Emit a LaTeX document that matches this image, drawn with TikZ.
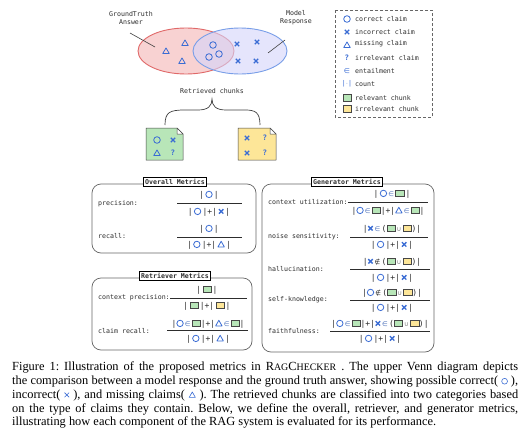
\documentclass[tikz,border=0pt]{standalone}
\usepackage{fontspec}
\setmainfont{Liberation Serif}
\newfontfamily\mono{DejaVu Sans Mono}
\newfontfamily\djv{DejaVu Sans}
\definecolor{blueC}{RGB}{58,108,212}
\definecolor{txtC}{RGB}{45,45,45}
\definecolor{redS}{RGB}{224,104,104}
\definecolor{redF}{RGB}{246,196,196}
\definecolor{lavS}{RGB}{120,158,232}
\definecolor{lavF}{RGB}{212,212,250}
\definecolor{greenC}{RGB}{184,230,184}
\definecolor{yellowC}{RGB}{253,230,152}
\definecolor{chunkS}{RGB}{70,70,70}
\newcommand\oc{\tikz[baseline=-2.9pt]\draw[blueC,line width=0.8pt] (0pt,0pt) circle (3.2pt);}
\newcommand\xc{\tikz[baseline=-2.9pt]\draw[blueC,line width=1.35pt] (-2.2pt,-2.2pt)--(2.2pt,2.2pt) (-2.2pt,2.2pt)--(2.2pt,-2.2pt);}
\newcommand\tc{\tikz[baseline=-2.9pt]\draw[blueC,line width=0.8pt,line join=round] (-3.2pt,-2.5pt)--(3.2pt,-2.5pt)--(0pt,3.1pt)--cycle;}
\newcommand\gb{\tikz[baseline=-2.9pt]\draw[chunkS,fill=greenC,line width=0.4pt] (-4.2pt,-3.2pt) rectangle (4.2pt,3.2pt);}
\newcommand\yb{\tikz[baseline=-2.9pt]\draw[chunkS,fill=yellowC,line width=0.4pt] (-4.2pt,-3.2pt) rectangle (4.2pt,3.2pt);}
\newcommand\inn{{\djv\fontsize{6.5}{7}\selectfont\color{blueC!70!gray}∈}}
\newcommand\nin{{\djv\fontsize{6.5}{7}\selectfont ∉}}
\newcommand\un{{\djv\fontsize{6.5}{7}\selectfont\color{gray}∪}}
\newcommand\coc{\tikz[baseline=-3.4pt]\draw[blueC,line width=0.6pt] (0pt,0pt) circle (2.9pt);}
\newcommand\cxc{\tikz[baseline=-3.4pt]\draw[blueC,line width=0.6pt] (-2.3pt,-2.3pt)--(2.3pt,2.3pt) (-2.3pt,2.3pt)--(2.3pt,-2.3pt);}
\newcommand\ctc{\tikz[baseline=-3.4pt]\draw[blueC,line width=0.6pt,line join=round] (-3.1pt,-2.5pt)--(3.1pt,-2.5pt)--(0pt,3pt)--cycle;}
\newcommand\sml[1]{{\fontsize{9.9}{10}\selectfont #1}}
\begin{document}
\frenchspacing
\begin{tikzpicture}[x=1pt,y=-1pt,
  lbl/.style={font=\mono\fontsize{6.6}{8}\selectfont, text=txtC, inner sep=0pt},
  fml/.style={font=\mono\fontsize{8}{9}\selectfont, text=txtC, inner sep=0pt},
  ttl/.style={font=\mono\bfseries\fontsize{6.6}{8}\selectfont, text=txtC, draw=black, fill=white, line width=0.5pt, inner xsep=1.5pt, inner ysep=1.6pt},
  mbox/.style={draw=black!60, line width=0.7pt, rounded corners=9pt},
  fbar/.style={draw=txtC, line width=0.6pt},
  leader/.style={draw=black!75, line width=0.6pt},
  chunk/.style={draw=chunkS, line width=0.5pt, line join=round},
  pcirc/.pic={\draw[blueC,line width=0.8pt] (0,0) circle (3.3pt);},
  ptri/.pic={\draw[blueC,line width=0.8pt,line join=round] (-3.2,2.4)--(3.2,2.4)--(0,-3)--cycle;},
  pcross/.pic={\draw[blueC,line width=1.3pt] (-2.2,-2.2)--(2.2,2.2) (-2.2,2.2)--(2.2,-2.2);},
  qm/.style={font=\mono\bfseries\fontsize{7.5}{8}\selectfont, text=blueC, inner sep=0pt}
]
\useasboundingbox (0,0) rectangle (530,442);
\fill[white] (0,0) rectangle (530,442);

% Venn diagram
\draw[redS, fill=redF, fill opacity=0.75, line width=0.9pt] (186,51) ellipse [x radius=48, y radius=23];
\draw[lavS, fill=lavF, fill opacity=0.6, line width=0.9pt] (240,51) ellipse [x radius=47, y radius=23];
\node[lbl, align=center] (gt) at (131,18) {GroundTruth\\Answer};
\node[lbl, align=center] (mr) at (296,18) {Model\\Response};
\coordinate (gtA) at (130,33);
\coordinate (gtB) at (155,47);
\coordinate (mrA) at (285,40);
\coordinate (mrB) at (268,53);
\draw[leader] (gtA) -- (gtB);
\draw[leader] (mrA) -- (mrB);
\pic at (166,51) {ptri};
\pic at (185,43) {ptri};
\pic at (182,61) {ptri};
\pic at (213,45) {pcirc};
\pic at (209,57) {pcirc};
\pic at (219,54) {pcirc};
\pic at (237,44) {pcross};
\pic at (257,42) {pcross};
\pic at (238,61) {pcross};
\pic at (256,61) {pcross};

% Legend
\draw[draw=black!60, dashed, dash pattern=on 3pt off 2pt, line width=0.6pt] (335,10) rectangle (432,117);
\pic at (347,19) {pcirc};
\node[lbl, anchor=west] (l1) at (355,19) {correct claim};
\pic at (347,32) {pcross};
\node[lbl, anchor=west] (l2) at (355,32) {incorrect claim};
\pic at (347,45) {ptri};
\node[lbl, anchor=west] (l3) at (355,44) {missing claim};
\node[qm] (l4s) at (347,58) {?};
\node[lbl, anchor=west] (l4) at (355,58) {irrelevant claim};
\node[inner sep=0pt, text=blueC, font=\djv\fontsize{7}{8}\selectfont] (l5s) at (347,71) {∈};
\node[lbl, anchor=west] (l5) at (355,71) {entailment};
\node[lbl, text=blueC] (l6s) at (347,84) {|$\cdot$|};
\node[lbl, anchor=west] (l6) at (355,84) {count};
\draw[chunkS, fill=greenC, line width=0.4pt] (343,94) rectangle (351,101);
\node[lbl, anchor=west] (l7) at (355,98) {relevant chunk};
\draw[chunkS, fill=yellowC, line width=0.4pt] (343,105) rectangle (351,112);
\node[lbl, anchor=west] (l8) at (355,109) {irrelevant chunk};

% Retrieved chunks
\node[lbl] (rc) at (212,91) {Retrieved chunks};
\coordinate (brL) at (165,125);
\coordinate (brM) at (212,99);
\coordinate (brR) at (260,125);
\draw[leader, line width=0.7pt] (brL) .. controls (165,112) and (170,110) .. (185,110) -- (198,110) .. controls (208,110) and (212,106) .. (brM) .. controls (212,106) and (216,110) .. (226,110) -- (245,110) .. controls (255,110) and (260,112) .. (brR);
\draw[chunk, fill=greenC] (146,128) -- (177,128) -- (183,134) -- (183,160) -- (146,160) -- cycle;
\draw[chunk, fill=white] (177,128) -- (177,134) -- (183,134) -- cycle;
\pic at (157,140) {pcirc};
\pic at (173,140) {pcross};
\pic at (157,153) {ptri};
\node[qm] (g4) at (173,153) {?};
\draw[chunk, fill=yellowC] (238,128) -- (270,128) -- (276,134) -- (276,160) -- (238,160) -- cycle;
\draw[chunk, fill=white] (270,128) -- (270,134) -- (276,134) -- cycle;
\pic at (247,138) {pcross};
\node[qm] (y2) at (265,138) {?};
\pic at (247,153) {pcross};
\node[qm] (y4) at (265,153) {?};

% Overall metrics
\draw[mbox] (92,184) rectangle (256,253);
\node[ttl] (om) at (175,182) {Overall Metrics};
\node[lbl, anchor=west] (prl) at (98,204) {precision:};
\node[fml] (prn) at (209,195) {|\,\oc\,|};
\draw[fbar] (177,203) -- (242,203);
\node[fml] (prd) at (209,212) {|\,\oc\,|+|\,\xc\,|};
\node[lbl, anchor=west] (rel) at (98,236) {recall:};
\node[fml] (ren) at (209,229) {|\,\oc\,|};
\draw[fbar] (177,237) -- (242,237);
\node[fml] (red) at (209,245) {|\,\oc\,|+|\,\tc\,|};

% Retriever metrics
\draw[mbox] (92,278) rectangle (252,350);
\node[ttl] (rm) at (175,276) {Retriever Metrics};
\node[lbl, anchor=west] (cpl) at (98,298) {context precision:};
\node[fml] (cpn) at (207,290) {|\,\gb\,|};
\coordinate (cpE) at (247,298);
\draw[fbar] (cpl.east) -- (cpE);
\node[fml] (cpd) at (207,306) {|\,\gb\,|+|\,\yb\,|};
\node[lbl, anchor=west] (crl) at (98,331) {claim recall:};
\node[fml] (crn) at (208,324) {|\oc\,\inn\,\gb|+|\tc\,\inn\,\gb|};
\draw[fbar] (167,330) -- (248,330);
\node[fml] (crd) at (208,339) {|\,\oc\,|+|\,\tc\,|};

% Generator metrics
\draw[mbox] (262,184) rectangle (434,352);
\node[ttl] (gm) at (347,182) {Generator Metrics};
\node[lbl, anchor=west] (cul) at (268,202) {context utilization:};
\node[fml] (cun) at (392,194) {|\,\oc\,\inn\,\gb\,|};
\coordinate (cuE) at (428,202);
\draw[fbar] (cul.east) -- (cuE);
\node[fml] (cud) at (388,211) {|\oc\,\inn\,\gb|+|\tc\,\inn\,\gb|};
\node[lbl, anchor=west] (nsl) at (268,237) {noise sensitivity:};
\node[fml] (nsn) at (392,229) {|\xc\,\inn\,(\gb\,\un\,\yb)|};
\draw[fbar] (350,237) -- (428,237);
\node[fml] (nsd) at (392,245) {|\,\oc\,|+|\,\xc\,|};
\node[lbl, anchor=west] (hal) at (268,269) {hallucination:};
\node[fml] (han) at (392,262) {|\xc\,\nin\,(\gb\,\un\,\yb)|};
\draw[fbar] (350,269) -- (430,269);
\node[fml] (had) at (392,278) {|\,\oc\,|+|\,\xc\,|};
\node[lbl, anchor=west] (skl) at (268,300) {self-knowledge:};
\node[fml] (skn) at (392,293) {|\oc\,\nin\,(\gb\,\un\,\yb)|};
\draw[fbar] (350,300) -- (430,300);
\node[fml] (skd) at (392,308) {|\,\oc\,|+|\,\xc\,|};
\node[lbl, anchor=west] (ffl) at (268,331) {faithfulness:};
\node[fml] (ffn) at (380,324) {|\oc\,\inn\,\gb|+|\xc\,\inn\,(\gb\,\un\,\yb)|};
\draw[fbar] (330,331) -- (430,331);
\node[fml] (ffd) at (380,339) {|\,\oc\,|+|\,\xc\,|};

% Caption
\node[anchor=north west, inner sep=0pt, align=left, font=\fontsize{12.4}{13.7}\selectfont] (cap) at (12,362) {%
\makebox[506pt][s]{Figure 1: Illustration of the proposed metrics in R\sml{AG}C\sml{HECKER} . The upper Venn diagram depicts}\\
\makebox[506pt][s]{the comparison between a model response and the ground truth answer, showing possible correct( \coc\ ),}\\
\makebox[506pt][s]{incorrect( \cxc\ ), and missing claims( \ctc\ ). The retrieved chunks are classified into two categories based}\\
\makebox[506pt][s]{on the type of claims they contain. Below, we define the overall, retriever, and generator metrics,}\\
illustrating how each component of the RAG system is evaluated for its performance.};
\end{tikzpicture}
\end{document}
